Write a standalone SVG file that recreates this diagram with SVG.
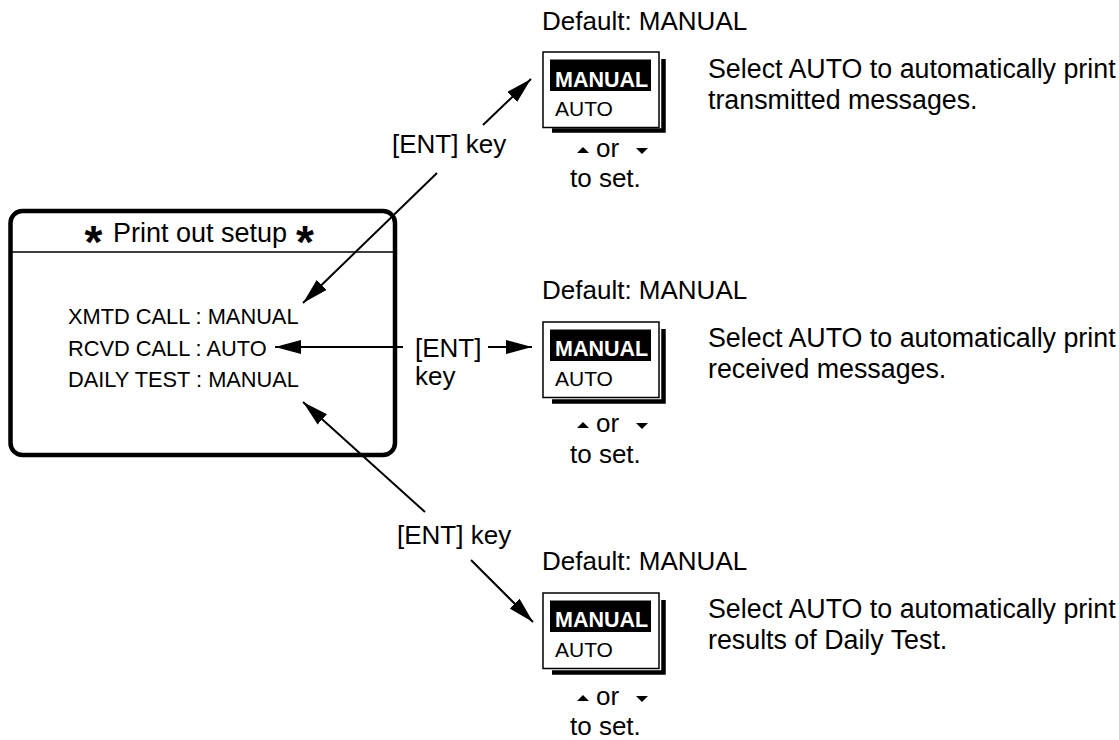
<svg xmlns="http://www.w3.org/2000/svg" width="1119" height="740" viewBox="0 0 1119 740">
<style>
text{font-family:"Liberation Sans",Arial,sans-serif;fill:#000}
.lbl{font-size:26px}
.desc{font-size:26.8px}
.row{font-size:21.8px}
.title{font-size:27px}
.ast{font-size:46px;font-weight:bold}
.hi{font-size:21.5px;font-weight:bold;fill:#fff}
.opt{font-size:21px}
.box{fill:#fff;stroke:#000;stroke-width:1.5}
.shadow{fill:none;stroke:#000;stroke-width:4.5}
.conn{fill:none;stroke:#000;stroke-width:2}
</style>
<defs>
<marker id="ah" markerUnits="userSpaceOnUse" markerWidth="26" markerHeight="14" viewBox="0 0 26 14" refX="26" refY="7" orient="auto">
<path d="M0,0 L26,7 L0,14 z" fill="#000"/>
</marker>
<polygon id="up" points="0,6 12,6 6,0" fill="#000"/>
<polygon id="down" points="0,0 12,0 6,6" fill="#000"/>
</defs>

<g id="setup-screen">
<rect x="10.5" y="211" width="384.5" height="244" rx="12" ry="12" fill="#fff" stroke="#000" stroke-width="4.5"/>
<line x1="10.5" y1="252" x2="395" y2="252" stroke="#000" stroke-width="1.5"/>
<text class="ast" x="93.5" y="258" text-anchor="middle">*</text>
<text class="title" x="200" y="242" text-anchor="middle">Print out setup</text>
<text class="ast" x="305" y="258" text-anchor="middle">*</text>
<text class="row" x="68" y="324">XMTD CALL : MANUAL</text>
<text class="row" x="68" y="356">RCVD CALL : AUTO</text>
<text class="row" x="68" y="387">DAILY TEST : MANUAL</text>
</g>

<g id="menu-xmtd">
<text class="lbl" x="542" y="29.5">Default: MANUAL</text>
<g transform="translate(543,52)">
<path class="shadow" d="M9,78.5 H120.5 V7"/>
<rect class="box" x="0" y="0" width="116" height="75.5"/>
<rect x="7" y="7.5" width="101" height="31.5" fill="#000"/>
<text class="hi" x="12" y="34.5">MANUAL</text>
<text class="opt" x="12" y="64">AUTO</text>
</g>
<use href="#up" x="577" y="147"/>
<text class="lbl" x="596" y="157">or</text>
<use href="#down" x="636" y="148"/>
<text class="lbl" x="570" y="186.5">to set.</text>
<text class="desc" x="708" y="78">Select AUTO to automatically print</text>
<text class="desc" x="708" y="108.5">transmitted messages.</text>
</g>

<g id="menu-rcvd">
<text class="lbl" x="542" y="298.5">Default: MANUAL</text>
<g transform="translate(543,322)">
<path class="shadow" d="M9,79.5 H120.5 V7"/>
<rect class="box" x="0" y="0" width="116" height="75.5"/>
<rect x="7" y="7.5" width="101" height="31.5" fill="#000"/>
<text class="hi" x="12" y="33.5">MANUAL</text>
<text class="opt" x="12" y="63.5">AUTO</text>
</g>
<use href="#up" x="577" y="422"/>
<text class="lbl" x="596" y="432">or</text>
<use href="#down" x="636" y="423"/>
<text class="lbl" x="570" y="463">to set.</text>
<text class="desc" x="708" y="347">Select AUTO to automatically print</text>
<text class="desc" x="708" y="378">received messages.</text>
</g>

<g id="menu-daily">
<text class="lbl" x="542" y="570">Default: MANUAL</text>
<g transform="translate(543,593)">
<path class="shadow" d="M9,79.5 H120.5 V7"/>
<rect class="box" x="0" y="0" width="116" height="75.5"/>
<rect x="7" y="7.5" width="101" height="31.5" fill="#000"/>
<text class="hi" x="12" y="33.5">MANUAL</text>
<text class="opt" x="12" y="63.5">AUTO</text>
</g>
<use href="#up" x="577" y="695"/>
<text class="lbl" x="596" y="705">or</text>
<use href="#down" x="636" y="696"/>
<text class="lbl" x="570" y="735">to set.</text>
<text class="desc" x="708" y="618">Select AUTO to automatically print</text>
<text class="desc" x="708" y="649">results of Daily Test.</text>
</g>

<g id="connectors">
<line class="conn" x1="437" y1="173" x2="303" y2="303" marker-end="url(#ah)"/>
<line class="conn" x1="483" y1="125" x2="531" y2="79" marker-end="url(#ah)"/>
<text class="lbl" x="392" y="153">[ENT] key</text>
<line class="conn" x1="403" y1="347" x2="275" y2="347" marker-end="url(#ah)"/>
<line class="conn" x1="488" y1="347" x2="532" y2="347" marker-end="url(#ah)"/>
<text class="lbl" x="415" y="357">[ENT]</text>
<text class="lbl" x="415" y="385">key</text>
<line class="conn" x1="425" y1="512" x2="303" y2="402" marker-end="url(#ah)"/>
<line class="conn" x1="471" y1="560" x2="533" y2="622" marker-end="url(#ah)"/>
<text class="lbl" x="397" y="544">[ENT] key</text>
</g>
</svg>
